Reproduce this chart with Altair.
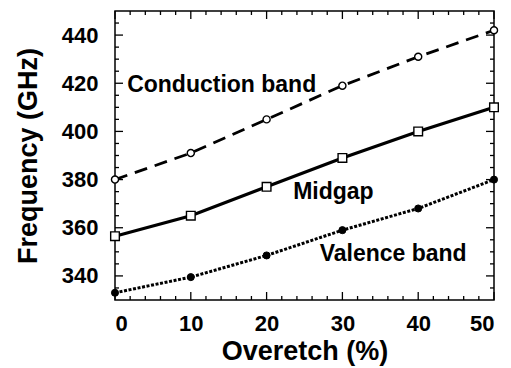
import altair as alt
import pandas as pd

# ---- data ----
overetch = [0, 10, 20, 30, 40, 50]
conduction = [380, 391, 405, 419, 431, 442]
midgap = [356.5, 365, 377, 389, 400, 410]
valence = [333, 339.5, 348.5, 359, 368, 380]

x_major = [0, 10, 20, 30, 40, 50]
y_major = [340, 360, 380, 400, 420, 440]
x_minor = [v for v in range(0, 51, 2) if v % 10 != 0]
y_minor = [v for v in range(335, 450, 5) if v % 20 != 0]

ann_text = ["Conduction band", "Midgap", "Valence band"]
ann_x = [1.6, 23.5, 27.0]
ann_y = [416.4, 371.8, 346.4]

W, H = 379, 289
FONT = "Liberation Sans"

xscale = alt.Scale(domain=[0, 50], nice=False, zero=False)
yscale = alt.Scale(domain=[330, 450], nice=False, zero=False)

xaxis = alt.Axis(values=x_major, format="d", title="Overetch (%)", grid=False,
                 ticks=False, domain=False, labelFont=FONT, labelFontWeight="bold",
                 labelFontSize=22, labelColor="black", labelPadding=13,
                 titleFont=FONT, titleFontWeight="bold", titleFontSize=27,
                 titleColor="black", titlePadding=4)
yaxis = alt.Axis(values=y_major, format="d", title="Frequency (GHz)", grid=False,
                 ticks=False, domain=False, labelFont=FONT, labelFontWeight="bold",
                 labelFontSize=22, labelColor="black", labelPadding=17,
                 titleFont=FONT, titleFontWeight="bold", titleFontSize=27,
                 titleColor="black", titlePadding=19)

def X(field="x"):
    return alt.X(f"{field}:Q", scale=xscale, axis=xaxis)

def Y(field="y"):
    return alt.Y(f"{field}:Q", scale=yscale, axis=yaxis)

def series_df(vals):
    return pd.DataFrame({"x": overetch, "y": vals})

cond_df = series_df(conduction)
mid_df = series_df(midgap)
val_df = series_df(valence)

cond_line = alt.Chart(cond_df).mark_line(color="black", strokeWidth=2.8, strokeDash=[13, 8]).encode(x=X(), y=Y())
mid_line = alt.Chart(mid_df).mark_line(color="black", strokeWidth=3.2).encode(x=X(), y=Y())
val_line = alt.Chart(val_df).mark_line(color="black", strokeWidth=3, strokeDash=[3, 1.6]).encode(x=X(), y=Y())

cond_pts = alt.Chart(cond_df).mark_point(shape="circle", filled=True, fill="white", stroke="black",
                                         strokeWidth=1.4, size=50, opacity=1).encode(x=X(), y=Y())
mid_pts = alt.Chart(mid_df).mark_point(shape="square", filled=True, fill="white", stroke="black",
                                       strokeWidth=1.4, size=75, opacity=1).encode(x=X(), y=Y())
val_pts = alt.Chart(val_df).mark_point(shape="circle", filled=True, fill="black", stroke="black",
                                       strokeWidth=1, size=50, opacity=1).encode(x=X(), y=Y())

# inward tick marks on all four sides
xmaj = pd.DataFrame({"x": x_major})
xmin = pd.DataFrame({"x": x_minor})
ymaj = pd.DataFrame({"y": y_major})
ymin = pd.DataFrame({"y": y_minor})

def xticks(df, length):
    bot = alt.Chart(df).mark_rule(color="black", strokeWidth=1.3).encode(
        x=X(), y=alt.value(H), y2=alt.value(H - length))
    top = alt.Chart(df).mark_rule(color="black", strokeWidth=1.3).encode(
        x=X(), y=alt.value(0), y2=alt.value(length))
    return [bot, top]

def yticks(df, length):
    left = alt.Chart(df).mark_rule(color="black", strokeWidth=1.3).encode(
        y=Y(), x=alt.value(0), x2=alt.value(length))
    right = alt.Chart(df).mark_rule(color="black", strokeWidth=1.3).encode(
        y=Y(), x=alt.value(W), x2=alt.value(W - length))
    return [left, right]

tick_layers = xticks(xmaj, 8) + xticks(xmin, 4) + yticks(ymaj, 8) + yticks(ymin, 4)

ann_df = pd.DataFrame({"x": ann_x, "y": ann_y, "t": ann_text})
ann = alt.Chart(ann_df).mark_text(font=FONT, fontWeight="bold", fontSize=23, color="black",
                                  align="left", baseline="alphabetic").encode(
    x=X(), y=Y(), text="t:N")

chart = alt.layer(
    *tick_layers, cond_line, mid_line, val_line, cond_pts, mid_pts, val_pts, ann
).properties(
    width=W, height=H,
    padding={"left": 107, "top": 3, "right": 5, "bottom": 66},
    autosize="none",
).configure_view(stroke="black", strokeWidth=1.5)

chart.save("out.html", embed_options={"renderer": "svg", "actions": False})
